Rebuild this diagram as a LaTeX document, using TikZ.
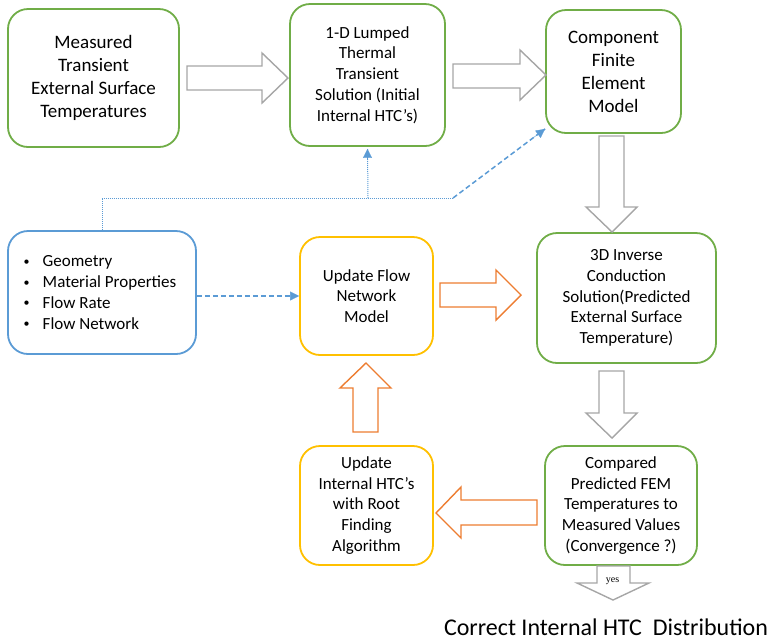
\documentclass[tikz,border=0pt]{standalone}
\usepackage{fontspec}
\setmainfont{Carlito}
\newfontfamily\yesfont{Liberation Serif}
\usetikzlibrary{arrows.meta,calc}

\definecolor{boxgreen}{HTML}{70AD47}
\definecolor{boxyellow}{HTML}{FFC000}
\definecolor{flowblue}{HTML}{5B9BD5}
\definecolor{looporange}{HTML}{ED7D31}
\definecolor{blockgray}{HTML}{A6A6A6}

\newcommand{\bulletitem}{\makebox[15pt][l]{\hspace*{-4pt}\raisebox{1.5pt}{\fontsize{12pt}{12pt}\selectfont •}}}

\tikzset{
  stage/.style={draw, line width=1.8pt, rounded corners=20pt, fill=white,
    align=center, inner sep=2pt},
  greenbox/.style={stage, draw=boxgreen},
  yellowbox/.style={stage, draw=boxyellow},
  bluebox/.style={stage, draw=flowblue},
  big/.style={font=\fontsize{19pt}{23pt}\selectfont},
  small/.style={font=\fontsize{17pt}{20.75pt}\selectfont},
  grayblock/.style={draw=blockgray, line width=1.4pt, fill=white, line join=miter},
  orangeblock/.style={draw=looporange, line width=1.4pt, fill=white, line join=miter},
  dotlink/.style={draw=flowblue, line width=1pt, dash pattern=on 1pt off 1pt},
  dashlink/.style={draw=flowblue, line width=1.5pt, dash pattern=on 5pt off 3pt},
  bluetip/.style={-{Triangle[length=9pt,width=9pt]}, color=flowblue}
}

\begin{document}
\begin{tikzpicture}[x=1pt,y=-1pt]
\useasboundingbox (0,0) rectangle (773,641);

% process boxes
\node[greenbox, big, minimum width=171pt, minimum height=138pt] (meas) at (93.5,78)
  {Measured\\Transient\\External Surface\\Temperatures};
\node[greenbox, small, minimum width=155pt, minimum height=142pt] (lumped) at (367.5,75)
  {1-D Lumped\\Thermal\\Transient\\Solution (Initial\\Internal HTC’s)};
\node[greenbox, big, minimum width=135pt, minimum height=123pt] (fem) at (613.5,71.5)
  {Component\\Finite\\Element\\Model};
\node[greenbox, small, minimum width=179pt, minimum height=130pt] (inverse) at (626.5,298)
  {3D Inverse\\Conduction\\Solution(Predicted\\External Surface\\Temperature)};
\node[yellowbox, small, minimum width=133pt, minimum height=118pt] (flow) at (366.5,296)
  {Update Flow\\Network\\Model};
\node[bluebox, small, minimum width=188pt, minimum height=123pt, align=left] (inputs) at (102,292.5)
  {\bulletitem Geometry\\\bulletitem Material Properties\\
   \bulletitem Flow Rate\\\bulletitem Flow Network};
\node[greenbox, small, minimum width=152pt, minimum height=119pt] (compare) at (621,505.5)
  {Compared\\Predicted FEM\\Temperatures to\\Measured Values\\(Convergence ?)};
\node[yellowbox, small, minimum width=133pt, minimum height=119pt] (htc) at (366.5,505.5)
  {Update\\Internal HTC’s\\with Root\\Finding\\Algorithm};

% hollow block arrows of the main chain
\draw[grayblock] (187,66) -- (262,66) -- (262,53) -- (288,78) -- (262,103) -- (262,90) -- (187,90) -- cycle;
\draw[grayblock] (453,64) -- (520,64) -- (520,50) -- (546,75) -- (520,100) -- (520,88) -- (453,88) -- cycle;
\draw[grayblock] (599,136) -- (624,136) -- (624,207) -- (637,207) -- (612,232) -- (586,207) -- (599,207) -- cycle;
\draw[grayblock] (599,371) -- (624,371) -- (624,413) -- (637,413) -- (612,438) -- (586,413) -- (599,413) -- cycle;
\draw[grayblock] (597,566) -- (630,566) -- (630,583) -- (649,583) -- (613,600) -- (577,583) -- (597,583) -- cycle;
\node[font=\yesfont\fontsize{10pt}{12pt}\selectfont, inner sep=0pt, anchor=base] (yes) at (612.5,582) {yes};

% iteration loop arrows
\draw[orangeblock] (440,283) -- (496,283) -- (496,270) -- (521,295) -- (496,320) -- (496,307) -- (440,307) -- cycle;
\draw[orangeblock] (537,500) -- (461,500) -- (461,487) -- (436,513) -- (461,538) -- (461,525) -- (537,525) -- cycle;
\draw[orangeblock] (353,432) -- (353,388) -- (340,388) -- (366,363) -- (391,388) -- (378,388) -- (378,432) -- cycle;

% input data links
\coordinate (split) at (368,198);
\coordinate (bend) at (453,198);
\draw[dotlink] (inputs.north) |- (bend);
\draw[dotlink] (split) -- ($(lumped.south)+(0pt,-2pt)$);
\draw[bluetip] ($(lumped.south)+(0pt,-11pt)$) -- ($(lumped.south)+(0pt,-2pt)$);
\draw[dashlink] (bend) -- ($(fem.south west)+(0pt,5pt)$);
\draw[bluetip] ($(bend)!0.88!($(fem.south west)+(0pt,5pt)$)$) -- ($(fem.south west)+(0pt,5pt)$);
\draw[dashlink] (inputs.east |- flow.west) -- ($(flow.west)+(-9pt,0pt)$);
\draw[bluetip] ($(flow.west)+(-10pt,0pt)$) -- (flow.west);

% final result
\node[font=\fontsize{24pt}{28pt}\selectfont, inner sep=0pt, anchor=base] (result) at (606,635)
  {Correct Internal HTC\ \ Distribution};
\end{tikzpicture}
\end{document}
